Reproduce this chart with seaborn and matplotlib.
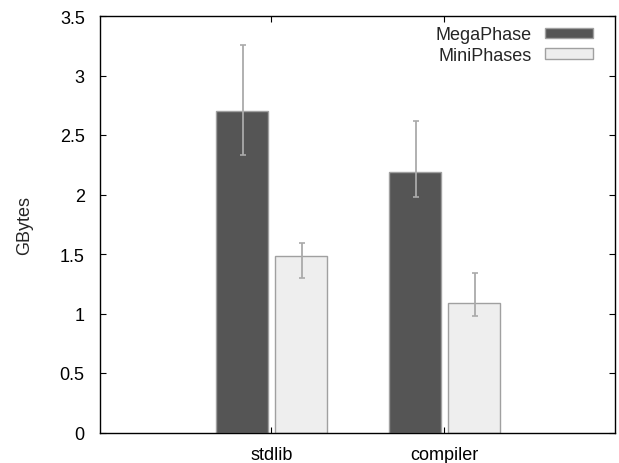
import matplotlib
matplotlib.use("Agg")
import matplotlib.pyplot as plt
import seaborn as sns
import pandas as pd

categories = ["stdlib", "compiler"]
series = ["MegaPhase", "MiniPhases"]
mega_values = [2.70, 2.19]
mini_values = [1.48, 1.085]
mega_err_low = [2.33, 1.98]
mega_err_high = [3.26, 2.62]
mini_err_low = [1.30, 0.98]
mini_err_high = [1.59, 1.34]
yticks = [0, 0.5, 1, 1.5, 2, 2.5, 3, 3.5]
ytick_labels = ["0", "0.5", "1", "1.5", "2", "2.5", "3", "3.5"]

sns.set_theme(style="white")
plt.rcParams["font.family"] = ["Liberation Sans", "DejaVu Sans"]

rows = []
for s, vals in zip(series, [mega_values, mini_values]):
    for c, v in zip(categories, vals):
        rows.append({"category": c, "series": s, "value": v})
df = pd.DataFrame(rows)

fig = plt.figure(figsize=(6.19, 4.64), dpi=100)
ax = fig.add_axes([100 / 619, 1 - 433.5 / 464, 515 / 619, 416.5 / 464])

palette = {"MegaPhase": "#555555", "MiniPhases": "#eeeeee"}
sns.barplot(data=df, x="category", y="value", hue="series", order=categories,
            hue_order=series, palette=palette, width=0.68, gap=0.12,
            errorbar=None, edgecolor="#a0a0a0", linewidth=1.0, ax=ax,
            saturation=1)

lows = [mega_err_low, mini_err_low]
highs = [mega_err_high, mini_err_high]
for cont, lo, hi, vals in zip(ax.containers, lows, highs, [mega_values, mini_values]):
    for bar, l, h, v in zip(cont, lo, hi, vals):
        xc = bar.get_x() + bar.get_width() / 2 + 0.006
        ax.errorbar([xc], [v], yerr=[[v - l], [h - v]], fmt="none",
                    ecolor="#aaaaaa", elinewidth=1.3, capsize=2.2, capthick=1.2,
                    zorder=5)

ax.set_xlim(-0.99, 1.985)
ax.set_ylim(0, 3.5)
ax.set_yticks(yticks)
ax.set_yticklabels(ytick_labels)
ax.set_xlabel("")
ax.set_ylabel("GBytes", fontsize=13, labelpad=19)

for sp in ax.spines.values():
    sp.set_visible(True)
    sp.set_color("black")
    sp.set_linewidth(1.0)

ax.tick_params(axis="both", direction="in", length=4, width=0.8, color="black",
               top=True, right=True, bottom=True, left=True, labelsize=13,
               labelcolor="black")
ax.tick_params(axis="y", pad=11)
ax.tick_params(axis="x", pad=10)

handles, labels = ax.get_legend_handles_labels()
ax.legend(handles, labels, loc="upper right", bbox_to_anchor=(0.957, 0.975),
          frameon=False, markerfirst=False, fontsize=13, handlelength=2.66,
          handleheight=0.55, handletextpad=0.72, labelspacing=0.2,
          borderaxespad=0, borderpad=0)

fig.savefig("out.png", dpi=100)
